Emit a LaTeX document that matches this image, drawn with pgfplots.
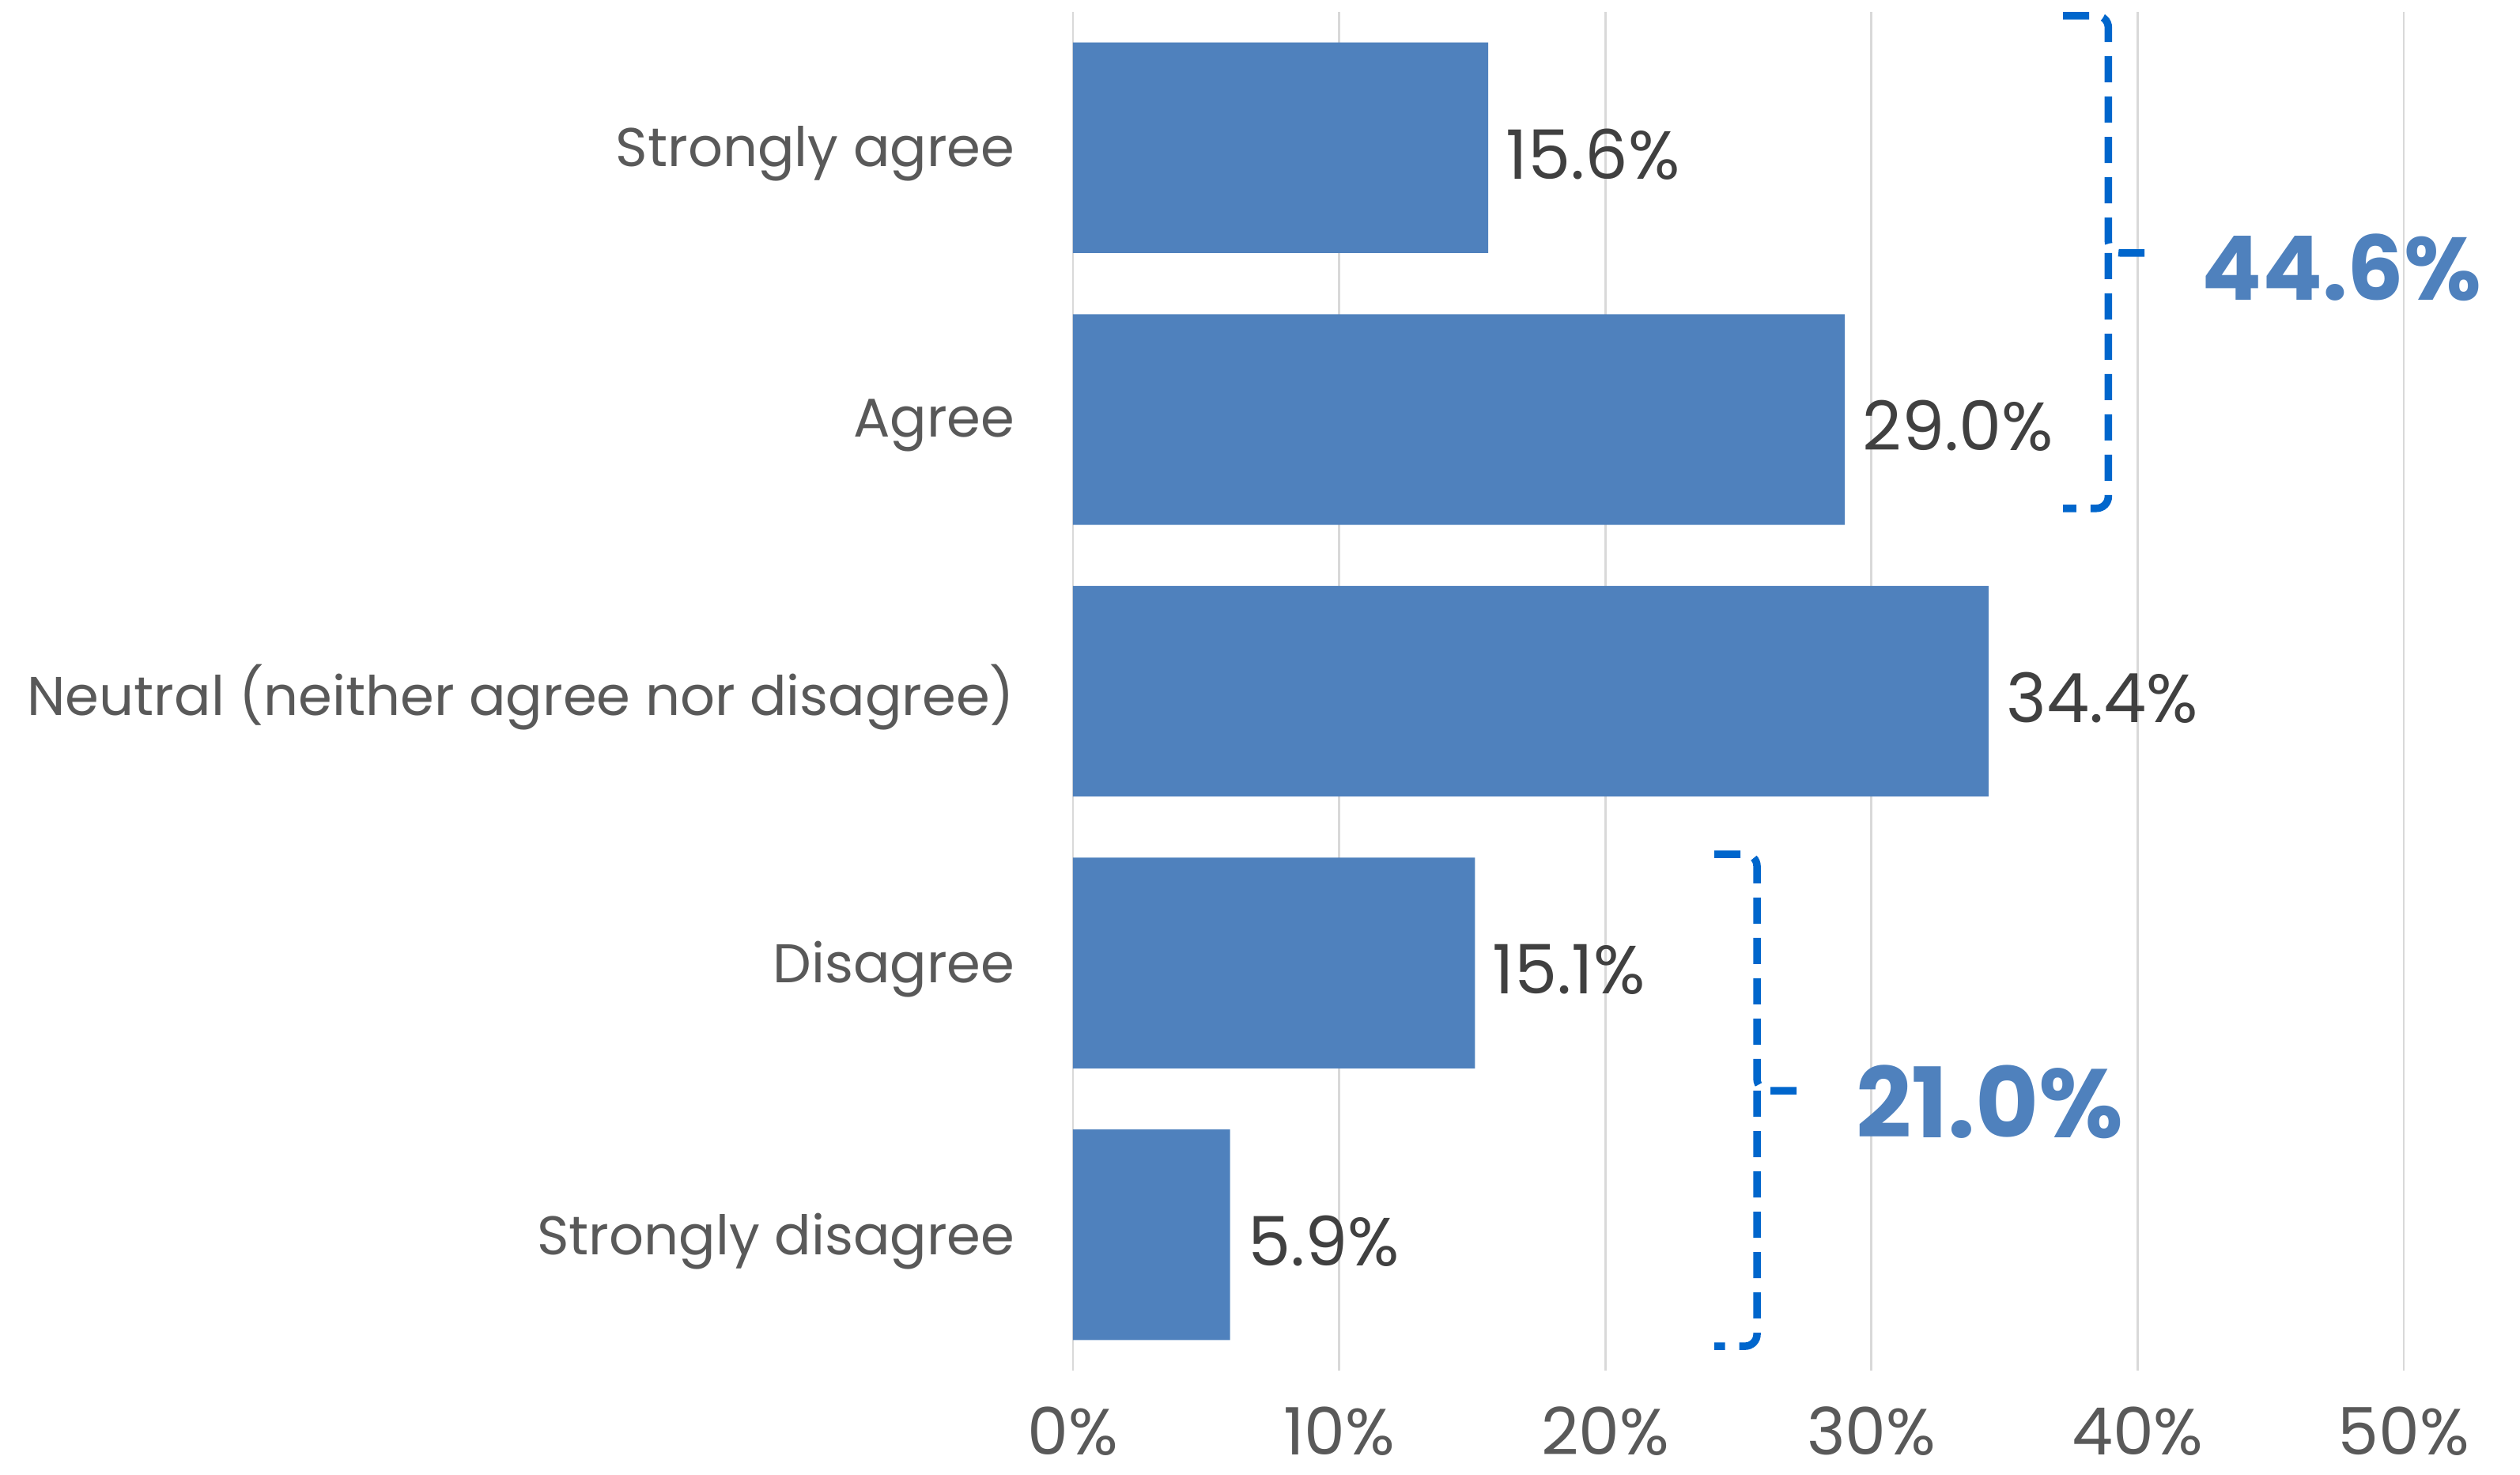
\documentclass[border=0pt]{standalone}
\usepackage{pgfplots}
\pgfplotsset{compat=1.18}
\usepackage{fontspec}
\setmainfont{Poppins}
\definecolor{barblue}{HTML}{4F81BD}
\definecolor{brblue}{HTML}{0066CC}
\definecolor{labgray}{HTML}{595959}
\definecolor{datgray}{HTML}{404040}
\definecolor{gridgray}{HTML}{D9D9D9}
\begin{document}
\begin{tikzpicture}
\begin{axis}[
  name=ax,
  /pgf/number format/assume math mode=true,
  scale only axis, width=16.83cm, height=17.18cm,
  xbar, bar width=0.775,
  xmin=0, xmax=50, ymin=-0.5, ymax=4.5, y dir=reverse,
  ytick={0,1,2,3,4},
  yticklabels={Strongly agree, Agree, Neutral (neither agree nor disagree), Disagree, Strongly disagree},
  xtick={0,10,20,30,40,50},
  xticklabel={\pgfmathprintnumber{\tick}\%},
  xmajorgrids, grid style={color=gridgray, line width=0.8pt},
  axis line style={draw=none}, major tick length=0pt,
  y tick label style={font=\fontsize{19.6}{21}\selectfont, color=labgray, anchor=east, inner sep=0pt, xshift=-0.73cm, yshift=-0.08cm},
  x tick label style={font=\fontsize{23.5}{25}\selectfont, color=labgray, anchor=base, inner sep=0pt, yshift=-1.06cm},
  point meta=x,
  nodes near coords={\pgfmathprintnumber[fixed, fixed zerofill, precision=1]{\pgfplotspointmeta}\%},
  every node near coord/.append style={anchor=west, inner sep=0pt, xshift=0.22cm, yshift=-0.08cm, font=\fontsize{24.5}{26}\selectfont, color=datgray},
  clip=false,
]
\addplot[fill=barblue, draw=none] coordinates {(15.6,0) (29.0,1) (34.4,2) (15.1,3) (5.9,4)};
\draw[brblue, line width=2.7pt, dash pattern=on 0.33cm off 0.18cm, rounded corners=0.15cm]
  (axis cs:37.2,-0.486) -| (axis cs:38.9,0.387) -- (axis cs:40.6,0.387);
\draw[brblue, line width=2.7pt, dash pattern=on 0.33cm off 0.18cm, rounded corners=0.15cm]
  (axis cs:38.9,0.387) |- (axis cs:37.2,1.327);
\draw[brblue, line width=2.7pt, dash pattern=on 0.33cm off 0.18cm, rounded corners=0.15cm]
  (axis cs:24.1,2.60) -| (axis cs:25.7,3.47) -- (axis cs:27.45,3.47);
\draw[brblue, line width=2.7pt, dash pattern=on 0.33cm off 0.18cm, rounded corners=0.15cm]
  (axis cs:25.7,3.47) |- (axis cs:24.1,4.41);
\node[anchor=west, inner sep=0pt, text=barblue, font=\fontsize{32}{34}\selectfont\bfseries] at (axis cs:42.4,0.44) {44.6\%};
\node[anchor=west, inner sep=0pt, text=barblue, font=\fontsize{35}{37}\selectfont\bfseries] at (axis cs:29.4,3.51) {21.0\%};
\end{axis}
\pgfresetboundingbox
\path[use as bounding box] ([xshift=-13.57cm,yshift=-1.32cm]ax.south west) rectangle ([xshift=18.30cm,yshift=17.33cm]ax.south west);
\end{tikzpicture}
\end{document}
